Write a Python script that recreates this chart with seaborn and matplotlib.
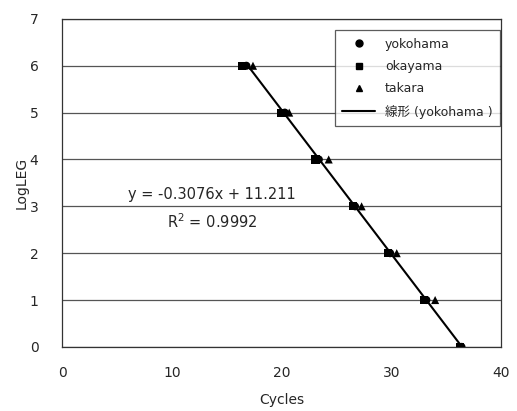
import numpy as np
import pandas as pd
import matplotlib
matplotlib.use("Agg")
import matplotlib.pyplot as plt
from matplotlib.lines import Line2D
import seaborn as sns

log_leg = [6, 5, 4, 3, 2, 1, 0]
yokohama = [16.8, 20.3, 23.4, 26.7, 29.9, 33.2, 36.4]
okayama = [16.4, 20.0, 23.1, 26.5, 29.7, 33.0, 36.3]
takara = [17.4, 20.7, 24.3, 27.3, 30.5, 34.0, 36.5]
slope = -0.3076
intercept = 11.211
r2 = 0.9992

df = pd.DataFrame({
    "Cycles": yokohama + okayama + takara,
    "LogLEG": log_leg * 3,
    "site": ["yokohama"] * 7 + ["okayama"] * 7 + ["takara"] * 7,
})

sns.set_style("white")
plt.rcParams["font.family"] = ["DejaVu Sans", "Noto Sans CJK JP"]

fig = plt.figure(figsize=(5.17, 4.11), dpi=100)
ax = fig.add_axes([0.12, 0.156, 0.849, 0.798])

ax.set_axisbelow(True)
ax.grid(axis="y", color="#555555", lw=0.9)

sns.scatterplot(data=df, x="Cycles", y="LogLEG", style="site",
                markers={"yokohama": "o", "okayama": "s", "takara": "^"},
                color="black", s=34, edgecolor="black", linewidth=0,
                ax=ax, legend=False, zorder=3)

# trendline for yokohama
xs = np.array([min(yokohama), max(yokohama)])
ax.plot(xs, slope * xs + intercept, color="black", lw=1.5, zorder=2)

ax.set_xlim(0, 40)
ax.set_ylim(0, 7)
ax.set_xticks([0, 10, 20, 30, 40])
ax.set_yticks(range(8))
ax.tick_params(labelsize=10, length=0)
ax.tick_params(axis="x", pad=14)
ax.tick_params(axis="y", pad=17)
ax.set_xlabel("Cycles", fontsize=10, labelpad=9)
ax.set_ylabel("LogLEG", fontsize=10, labelpad=1)
for s in ax.spines.values():
    s.set_color("#333333")
    s.set_linewidth(0.9)

ax.text(13.7, 3.25, f"y = {slope}x + {intercept}", fontsize=10.5,
        ha="center", va="center")
ax.text(13.7, 2.67, f"R$^2$ = {r2}", fontsize=10.5, ha="center", va="center")

handles = [
    Line2D([], [], ls="none", marker="o", color="black", ms=5),
    Line2D([], [], ls="none", marker="s", color="black", ms=5),
    Line2D([], [], ls="none", marker="^", color="black", ms=5),
    Line2D([], [], color="black", lw=1.5),
]
labels = ["yokohama", "okayama", "takara", "線形 (yokohama )"]
leg = ax.legend(handles, labels, loc="upper right", bbox_to_anchor=(0.998, 0.966),
                borderaxespad=0, frameon=True, fancybox=False, borderpad=0.6,
                handlelength=2.6, labelspacing=0.75,
                prop={"family": ["DejaVu Sans", "Noto Sans CJK JP"], "size": 9})
leg.get_frame().set_edgecolor("#333333")
leg.get_frame().set_linewidth(0.9)

fig.savefig("out.png", dpi=100)
